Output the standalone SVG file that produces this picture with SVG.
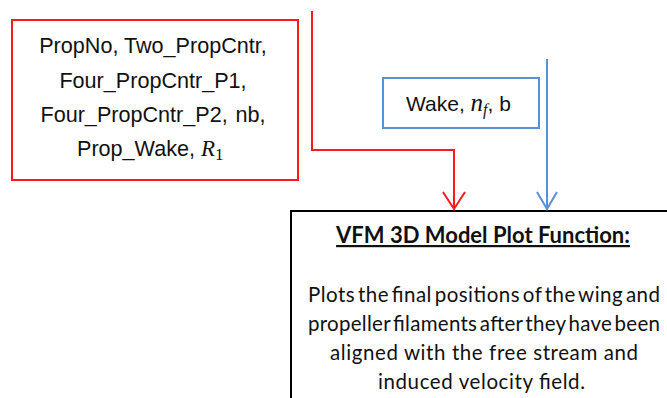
<svg xmlns="http://www.w3.org/2000/svg" width="667" height="398" viewBox="0 0 667 398">
  <style>
    .txt { font-family: "Liberation Sans", Arial, sans-serif; fill: #111; }
    .math { font-family: "Liberation Serif", "Times New Roman", serif; font-style: italic; fill: #111; }
    .sub { font-family: "Liberation Serif", "Times New Roman", serif; font-style: normal; fill: #111; }
    .body { font-family: Lato, "Liberation Sans", sans-serif; fill: #111; }
    .red { fill: #fff; stroke: #ff1a1a; stroke-width: 2; }
    .blue { fill: #fff; stroke: #5b8fd6; stroke-width: 2; }
    .black { fill: #fff; stroke: #000; stroke-width: 2; }
    .line { fill: none; stroke-width: 2; }
  </style>
  <rect width="667" height="398" fill="#fff"/>

  <!-- input parameters (propeller) -->
  <g id="prop-inputs">
    <rect class="red" x="12" y="20" width="286" height="160"/>
    <text class="txt" font-size="21.6" text-anchor="middle" x="153" y="53">PropNo, Two_PropCntr,</text>
    <text class="txt" font-size="21.6" text-anchor="middle" x="153" y="88">Four_PropCntr_P1,</text>
    <text class="txt" font-size="21.6" text-anchor="middle" x="153" y="122">Four_PropCntr_P2,&#8202; nb,</text>
    <text class="txt" font-size="21.6" x="77" y="156">Prop_Wake, <tspan class="math" font-size="23">R</tspan><tspan class="sub" font-size="17" dy="4">1</tspan></text>
  </g>

  <!-- input parameters (wake) -->
  <g id="wake-inputs">
    <rect class="blue" x="383" y="78" width="156" height="50"/>
    <text class="txt" font-size="21" x="406" y="111">Wake, <tspan class="math" font-size="25">n</tspan><tspan class="math" font-size="16" dy="4">f</tspan><tspan dy="-4">, b</tspan></text>
  </g>

  <!-- plotting function -->
  <g id="plot-function">
    <rect class="black" x="291" y="211" width="400" height="200"/>
    <text class="body" font-size="22" font-weight="bold" x="483" y="243" text-anchor="middle" text-decoration="underline">VFM 3D Model Plot Function:</text>
    <text class="body" font-size="20.5" lengthAdjust="spacing">
      <tspan x="308" y="302" textLength="352" word-spacing="-3">Plots the final positions of the wing and</tspan>
      <tspan x="308" y="331" textLength="352" word-spacing="-3">propeller filaments after they have been</tspan>
      <tspan x="330" y="360" textLength="308">aligned with the free stream and</tspan>
      <tspan x="378" y="389" textLength="207">induced velocity field.</tspan>
    </text>
  </g>

  <!-- connectors -->
  <g id="connectors">
    <path class="line" d="M312,11 V150 H454 V209" stroke="#ff1a1a"/>
    <path class="line" d="M443,192 L454,209 L465,192" stroke="#ff1a1a"/>
    <path class="line" d="M547,59 V209" stroke="#5b8fd6"/>
    <path class="line" d="M537,192 L547,209 L557,192" stroke="#5b8fd6"/>
  </g>
</svg>
